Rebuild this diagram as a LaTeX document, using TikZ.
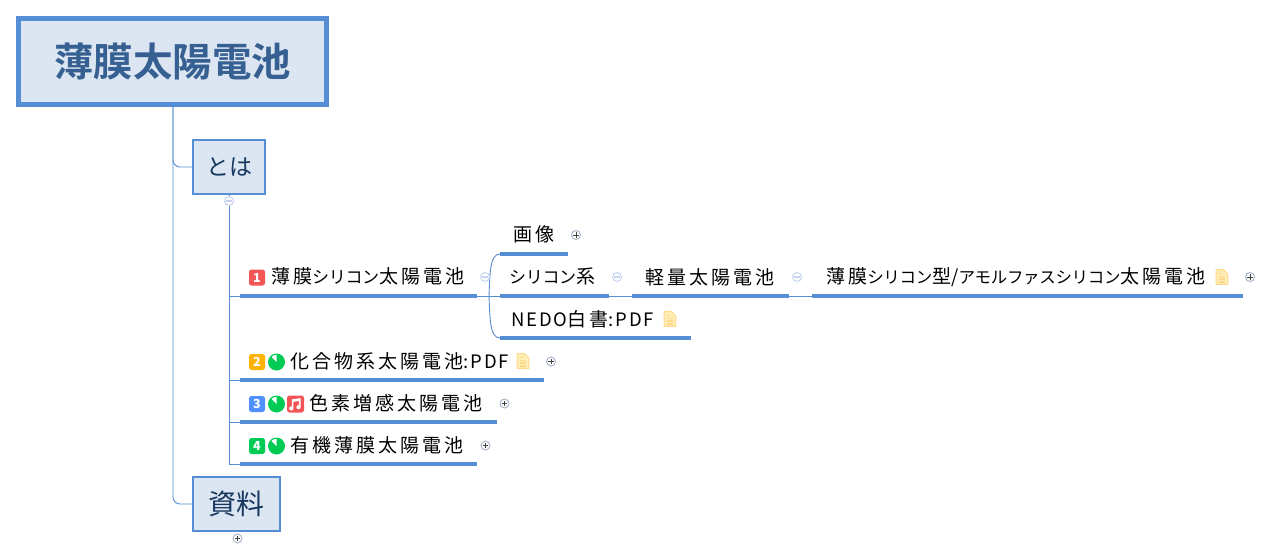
\documentclass[tikz,border=0pt]{standalone}
\usepackage{fontspec}
\setmainfont{Noto Sans CJK JP}
\newfontfamily\kjfont[LetterSpace=16]{Noto Sans CJK JP}
\newfontfamily\ktfont[LetterSpace=-2]{Noto Sans CJK JP}
\newfontfamily\ltfont[LetterSpace=10]{Noto Sans CJK JP}
\newfontfamily\cjkbold{Noto Sans CJK JP Bold}
\newcommand{\KJ}[1]{{\kjfont\fontsize{19}{20}\selectfont #1}}
\newcommand{\KT}[1]{{\ktfont\fontsize{17}{20}\selectfont #1}}
\newcommand{\KU}[1]{{\ktfont\fontsize{16.5}{20}\selectfont #1}}
\newcommand{\LT}[1]{{\ltfont\fontsize{18.5}{20}\selectfont #1}}
\usetikzlibrary{calc}
\definecolor{mainblue}{HTML}{558ED5}
\definecolor{boxfill}{HTML}{DCE6F2}
\definecolor{roottext}{HTML}{376092}
\definecolor{subtext}{HTML}{17375E}
\definecolor{minusc}{HTML}{C6D4F0}
\definecolor{plusc}{HTML}{AAB4CC}
\definecolor{docfill}{HTML}{FFEDB8}
\definecolor{docline}{HTML}{FFD98A}
\definecolor{pct}{HTML}{00CC55}
\tikzset{
 x=1pt,y=-1pt,
 rootbox/.style={draw=mainblue,line width=5pt,fill=boxfill,minimum width=308pt,minimum height=86pt,inner sep=0pt,text=roottext,font=\cjkbold\fontsize{39.5}{42}\selectfont},
 subbox/.style={draw=mainblue,line width=2pt,fill=boxfill,inner sep=0pt,minimum height=54pt,text=subtext},
 ulbar/.style={inner sep=0pt,minimum height=3.5pt,fill=mainblue,anchor=west},
 conn/.style={draw=mainblue,line width=0.9pt},
 lbl/.style={inner sep=0pt,anchor=west,text=black},
 badge/.style={inner sep=0pt,minimum size=16pt,rounded corners=2.5pt,text=white,font=\fontsize{12.5}{13}\selectfont\bfseries},
 pie/.style={circle,inner sep=0pt,minimum size=17pt,fill=pct},
 minusbtn/.style={circle,draw=minusc,fill=white,line width=1pt,inner sep=0pt,minimum size=9pt,path picture={\draw[minusc,line width=1.1pt] ($(path picture bounding box.center)+(-2.8,0)$)--($(path picture bounding box.center)+(2.8,0)$);}},
 plusbtn/.style={circle,draw=plusc,fill=white,line width=1pt,inner sep=0pt,minimum size=9pt,path picture={\draw[black!75,line width=0.9pt] ($(path picture bounding box.center)+(-2.8,0)$)--($(path picture bounding box.center)+(2.8,0)$) ($(path picture bounding box.center)+(0,-2.8)$)--($(path picture bounding box.center)+(0,2.8)$);}},
 docicon/.style={inner sep=0pt,minimum width=13pt,minimum height=16pt,path picture={
   \coordinate (dc) at (path picture bounding box.center);
   \filldraw[fill=docfill,draw=docline,line width=1pt,line join=round] ($(dc)+(-5.8,-7.3)$)--($(dc)+(1.5,-7.3)$)--($(dc)+(5.8,-3)$)--($(dc)+(5.8,7.3)$)--($(dc)+(-5.8,7.3)$)--cycle;
   \draw[docline,line width=1.4pt] ($(dc)+(-3.4,-0.8)$)--($(dc)+(3.4,-0.8)$) ($(dc)+(-3.4,2)$)--($(dc)+(3.4,2)$) ($(dc)+(-3.4,4.8)$)--($(dc)+(3.4,4.8)$);
   \draw[docline,line width=1.2pt] ($(dc)+(-3.4,-3.6)$)--($(dc)+(0,-3.6)$);
 }},
}
\newcommand{\pieicon}[2]{%
 \node[pie] (#1) at #2 {};
 \fill[white] (#1.center) -- ++(0,-7.2) arc[start angle=-90,end angle=-135,radius=7.2] -- cycle;
}
\begin{document}
\begin{tikzpicture}
\useasboundingbox (0,0) rectangle (1271,559);
\node[rootbox] (root) at (172.5,61.5) {薄膜太陽電池};
\node[subbox,minimum width=72pt,font=\fontsize{23}{28}\selectfont] (toha) at (229,167) {とは};
\node[subbox,minimum width=87pt,font=\fontsize{28}{30}\selectfont] (shiryo) at (236.5,504) {資料};
\coordinate (rootdown) at (173,107);
\draw[conn,rounded corners=7pt] (rootdown) -- (173,167) -- (toha.west);
\draw[conn,rounded corners=7pt] (rootdown) -- (173,504) -- (shiryo.west);
% bars
\node[ulbar,minimum width=237pt] (b1) at (240,296) {};
\node[ulbar,minimum width=304pt] (b2) at (240,380) {};
\node[ulbar,minimum width=257pt] (b3) at (240,422) {};
\node[ulbar,minimum width=237pt] (b4) at (240,464) {};
\node[ulbar,minimum width=68pt] (b5) at (500,254) {};
\node[ulbar,minimum width=109pt] (b6) at (500,296) {};
\node[ulbar,minimum width=191pt] (b7) at (500,338) {};
\node[ulbar,minimum width=157pt] (b8) at (632,296) {};
\node[ulbar,minimum width=431pt] (b9) at (812,296) {};
% tree
\draw[conn] (toha.south) -- (229,464) -- (b4.west);
\draw[conn] (229,296) -- (b1.west);
\draw[conn] (229,380) -- (b2.west);
\draw[conn] (229,422) -- (b3.west);
\draw[conn] (b1.east) -- (b6.west);
\coordinate (fork) at (489,296);
\draw[conn] (fork) .. controls (490,272) and (490,254) .. (b5.west);
\draw[conn] (fork) .. controls (490,320) and (490,338) .. (b7.west);
\draw[conn] (b6.east) -- (b8.west);
\draw[conn] (b8.east) -- (b9.west);
% buttons
\node[minusbtn] (m0) at (229,201) {};
\node[minusbtn] (m1) at (485,277) {};
\node[minusbtn] (m2) at (617,277) {};
\node[minusbtn] (m3) at (797,277) {};
\node[plusbtn] (p1) at (576,235) {};
\node[plusbtn] (p2) at (1250,277) {};
\node[plusbtn] (p3) at (551,361.5) {};
\node[plusbtn] (p4) at (504.5,403.5) {};
\node[plusbtn] (p5) at (485.5,445.5) {};
\node[plusbtn] (p6) at (237.5,538.5) {};
% badges
\node[badge,fill={rgb,255:red,242;green,85;blue,85}] (n1) at (257,277.5) {1};
\node[badge,fill={rgb,255:red,255;green,179;blue,0}] (n2) at (257,362) {2};
\node[badge,fill={rgb,255:red,80;green,144;blue,255}] (n3) at (257,404) {3};
\node[badge,fill={rgb,255:red,0;green,204;blue,85}] (n4) at (257,446) {4};
\pieicon{g2}{(276.5,362)}
\pieicon{g3}{(276.5,404)}
\pieicon{g4}{(276.5,446)}
\node[badge,minimum size=17pt,fill={rgb,255:red,242;green,85;blue,85}] (mus) at (295.5,404) {};
\fill[white] ($(mus.center)+(-4.2,4.4)$) circle (2.1pt) ($(mus.center)+(3,3.2)$) circle (2.1pt);
\draw[white,line width=1.5pt] ($(mus.center)+(-2.8,4.4)$) -- ($(mus.center)+(-2.8,-4)$) -- ($(mus.center)+(4.4,-5)$) -- ($(mus.center)+(4.4,3.2)$);
\draw[white,line width=1.8pt] ($(mus.center)+(-2.8,-3)$) -- ($(mus.center)+(4.4,-4)$);
% labels
\node[lbl] (l1) at (271,276.5) {\KJ{薄膜}\KT{シリコン}\KJ{太陽電池}};
\node[lbl] (l2) at (290,361) {\KJ{化合物系太陽電池}\LT{:PDF}};
\node[lbl] (l3) at (309,403) {\KJ{色素増感太陽電池}};
\node[lbl] (l4) at (290,445) {\KJ{有機薄膜太陽電池}};
\node[lbl] (l5) at (513,234.5) {\KJ{画像}};
\node[lbl] (l6) at (509,276.5) {\KT{シリコン}\KJ{系}};
\node[lbl] (l7) at (511,319) {\LT{NEDO}\KJ{白書}\LT{:PDF}};
\node[lbl] (l8) at (645,277) {\KJ{軽量太陽電池}};
\node[lbl] (l9) at (826,277) {\KJ{薄膜}\KU{シリコン}\KJ{型}\LT{/}\KU{アモルファスシリコン}\KJ{太陽電池}};
% doc icons
\node[docicon] (d1) at (523,361) {};
\node[docicon] (d2) at (670,319) {};
\node[docicon] (d3) at (1222,277) {};
\end{tikzpicture}
\end{document}
